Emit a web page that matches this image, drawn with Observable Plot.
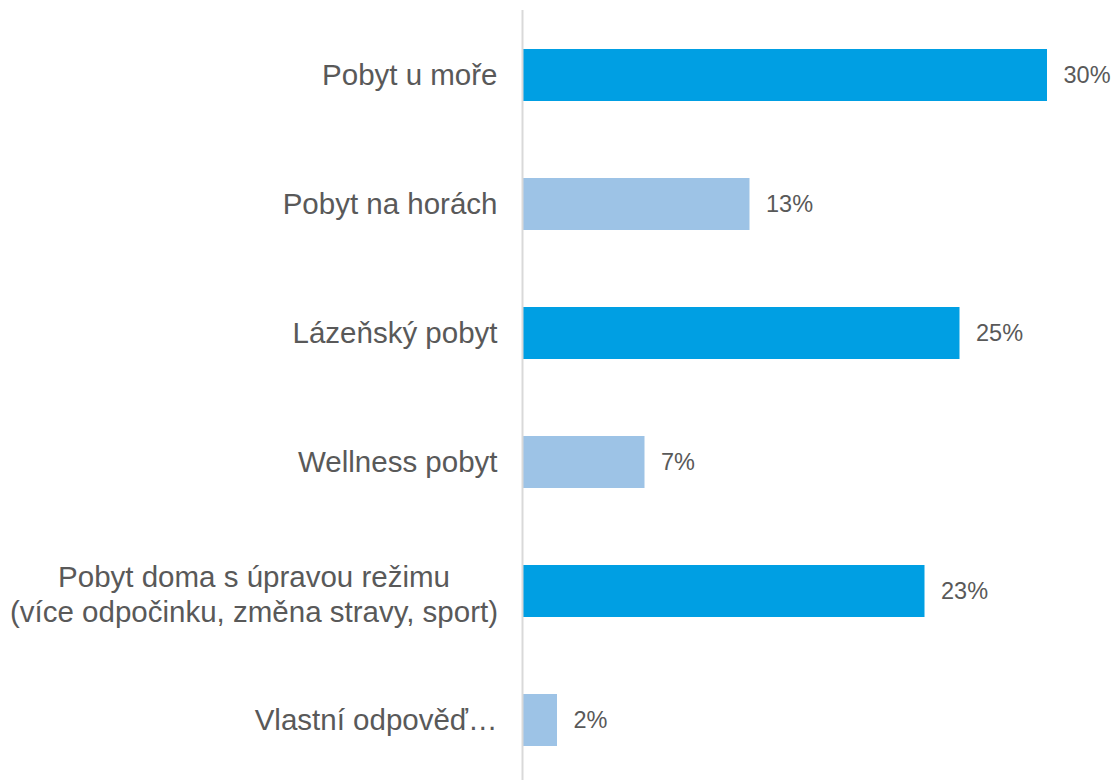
<!DOCTYPE html>
<html>
<head>
<meta charset="utf-8">
<script src="https://cdn.jsdelivr.net/npm/d3@7"></script>
<script src="https://cdn.jsdelivr.net/npm/@observablehq/plot@0.6"></script>
<style>
  html, body { margin: 0; padding: 0; background: #fff; }
  #chart svg { display: block; }
</style>
</head>
<body>
<div id="chart"></div>
<script>
const categories = [
  "Pobyt u moře",
  "Pobyt na horách",
  "Lázeňský pobyt",
  "Wellness pobyt",
  "Pobyt doma s úpravou režimu\n(více odpočinku, změna stravy, sport)",
  "Vlastní odpověď…"
];
const values = [30, 13, 25, 7, 23, 2];

const DARK = "#009FE3";
const LIGHT = "#9DC3E6";
const TEXT = "#595959";

const data = categories.map((c, i) => ({label: c, value: values[i], idx: i}));
const single = data.filter(d => !d.label.includes("\n"));
const multi = data.filter(d => d.label.includes("\n"));

const chart = Plot.plot({
  width: 1117,
  height: 780,
  marginLeft: 522,
  marginRight: 70,
  marginTop: 10,
  marginBottom: 0,
  style: {fontFamily: "'Liberation Sans', Arial, sans-serif", background: "#fff"},
  x: {domain: [0, 30], axis: null},
  y: {domain: categories, range: [9.4, 784.6], paddingInner: 0.6, paddingOuter: 0.3, axis: null},
  marks: [
    Plot.barX(data, {x1: 0, x2: "value", y: "label", fill: d => d.idx % 2 === 0 ? DARK : LIGHT, insetLeft: 1}),
    Plot.ruleX([0], {stroke: "#d9d9d9", strokeWidth: 2}),
    Plot.text(data, {x: "value", y: "label", text: d => d.value + "%", textAnchor: "start", dx: 16, fontSize: 23.5, fill: TEXT}),
    Plot.text(single, {x: 0, y: "label", text: "label", textAnchor: "end", dx: -25, fontSize: 29.5, fill: TEXT}),
    Plot.text(multi, {x: 0, y: "label", text: "label", textAnchor: "middle", dx: -268.5, dy: 2, fontSize: 29.5, lineHeight: 1.18, fill: TEXT})
  ]
});
document.getElementById("chart").appendChild(chart);
</script>
</body>
</html>
